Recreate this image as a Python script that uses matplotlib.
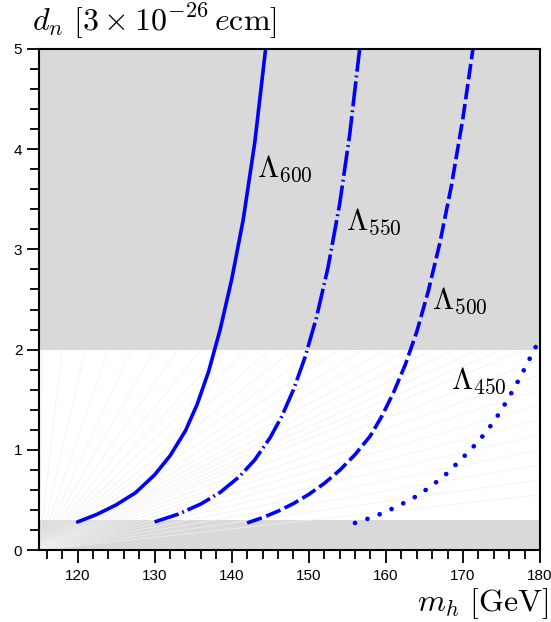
import numpy as np
import matplotlib
matplotlib.use("Agg")
import matplotlib.pyplot as plt

plt.rcParams['mathtext.fontset'] = 'cm'
plt.rcParams['font.family'] = ['Liberation Sans', 'DejaVu Sans']

# data
x600 = [120, 122.5, 125, 127.5, 130, 132, 134, 135.5, 137, 138.5, 140, 141.5, 143, 144.4]
y600 = [0.28, 0.355, 0.45, 0.57, 0.75, 0.94, 1.19, 1.45, 1.78, 2.20, 2.70, 3.30, 4.07, 5.0]

x550 = [130, 133, 136, 138.5, 141, 143, 145, 146.5, 148, 149.5, 151, 152.5, 154, 155.3, 156.6]
y550 = [0.28, 0.356, 0.459, 0.575, 0.733, 0.90, 1.123, 1.334, 1.597, 1.92, 2.32, 2.82,
        3.45, 4.14, 5.0]

x500 = [142, 144, 146, 148, 150, 152, 154, 156, 158, 159.5, 161, 162.5, 164, 165.5, 167,
        168.5, 170, 171.3]
y500 = [0.270, 0.323, 0.387, 0.463, 0.555, 0.664, 0.795, 0.952, 1.140, 1.338, 1.572, 1.845,
        2.175, 2.581, 3.062, 3.633, 4.310, 5.0]

x450 = [156.0, 157.6, 159.0, 160.5, 162.1, 163.6, 165.1, 166.5, 168.1, 169.5, 171.0, 172.6,
        174.1, 175.4, 176.7, 178.0, 178.8, 179.6, 180.0]
y450 = [0.27, 0.31, 0.35, 0.40, 0.46, 0.52, 0.595, 0.675, 0.775, 0.885, 1.00, 1.14,
        1.29, 1.45, 1.62, 1.81, 1.93, 2.05, 2.09]

labels = [r'$\Lambda_{600}$', r'$\Lambda_{550}$', r'$\Lambda_{500}$', r'$\Lambda_{450}$']
label_x = [143.3, 154.8, 166.0, 168.5]
label_y = [3.80, 3.28, 2.49, 1.69]

band_low = (0.0, 0.3)
band_high = (2.0, 5.0)

# decorative fan of faint rays from the lower-left corner (end points)
ray_top_x = [115.5, 118, 121, 124, 127, 130, 133, 136, 139, 142, 145, 148, 151, 154, 157, 160,
             163, 166, 169, 172, 175, 178]
ray_right_y = [1.9, 1.75, 1.6, 1.45, 1.3, 1.15, 1.0, 0.85, 0.7, 0.55]

fig = plt.figure(figsize=(5.51, 6.22), dpi=100)
ax = fig.add_axes([39/551, (622-550)/622, 501/551, 501/622])

xmin, xmax = 115, 180
ax.set_xlim(xmin, xmax)
ax.set_ylim(0, 5)

ax.axhspan(*band_low, color='#d9d9d9', lw=0, zorder=1)
for xe in ray_top_x:
    ax.plot([xmin, xe], [0, 2.0], color='#f0f0f0', lw=0.5, zorder=1.5)
for ye in ray_right_y:
    ax.plot([xmin, xmax], [0, ye], color='#f0f0f0', lw=0.5, zorder=1.5)
ax.axhspan(*band_high, color='#d9d9d9', lw=0, zorder=2)

blue = '#0000ff'
lw = 2.6
ax.plot(x600, y600, color=blue, lw=lw, solid_capstyle='round', solid_joinstyle='round', zorder=3)
ax.plot(x550, y550, color=blue, lw=lw, linestyle=(0, (7.0, 1.1, 0.5, 1.1)),
        dash_capstyle='butt', zorder=3)
ax.plot(x500, y500, color=blue, lw=lw, linestyle=(0, (4.3, 1.3)), dash_capstyle='butt', zorder=3)
ax.plot(x450, y450, color=blue, lw=3.4, linestyle=(0, (0.01, 2.75)),
        dash_capstyle='round', zorder=3, clip_on=False)

for t, lx, ly in zip(labels, label_x, label_y):
    ax.text(lx, ly, t, fontsize=22, va='center', ha='left', zorder=4)

ax.set_xticks([120, 130, 140, 150, 160, 170, 180])
ax.set_xticks(np.arange(116, 180, 2), minor=True)
ax.set_yticks([0, 1, 2, 3, 4, 5])
ax.set_yticks(np.arange(0, 5.01, 0.2), minor=True)
ax.tick_params(which='major', direction='out', length=9, width=1.3, labelsize=11, pad=3)
ax.tick_params(which='minor', direction='out', length=6.5, width=1.3)
ax.tick_params(axis='x', pad=5)

for s in ax.spines.values():
    s.set_linewidth(1.5)
    s.set_zorder(5)

fig.text(32/551, 1 - 21/622, r'$d_n\ [3\times 10^{-26}\,e\mathrm{cm}]$', fontsize=23,
         ha='left', va='center')
fig.text(548/551, 1 - 604/622, r'$m_h\ [\mathrm{GeV}]$', fontsize=23, ha='right', va='center')

fig.savefig('out.png', dpi=100)
